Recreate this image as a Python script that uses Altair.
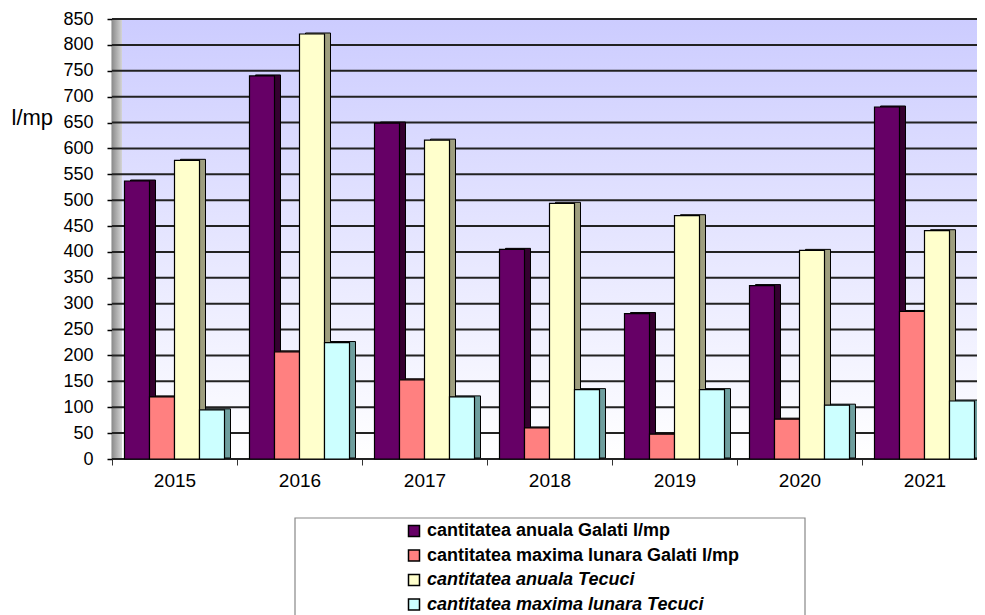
import altair as alt
import pandas as pd

years = ["2015", "2016", "2017", "2018", "2019", "2020", "2021"]
series = [
    "cantitatea anuala Galati l/mp",
    "cantitatea maxima lunara Galati l/mp",
    "cantitatea anuala Tecuci",
    "cantitatea maxima lunara Tecuci",
]
galati_anual = [537, 740, 649, 405, 281, 335, 680]
galati_max = [120, 207, 153, 60, 48, 77, 285]
tecuci_anual = [577, 821, 616, 494, 470, 403, 441]
tecuci_max = [95, 225, 120, 134, 134, 104, 112]
y_ticks = list(range(0, 851, 50))

front_colors = ["#660066", "#ff8080", "#ffffcc", "#ccffff"]
side_colors = ["#35002f", "#804040", "#9e9e7e", "#6e9e9e"]

rows = []
for s, vals in zip(series, [galati_anual, galati_max, tecuci_anual, tecuci_max]):
    for y, v in zip(years, vals):
        rows.append({"an": y, "serie": s, "valoare": v})
df = pd.DataFrame(rows)

W, H = 875, 440
FONT = "Liberation Sans"

yscale = alt.Scale(domain=[0, 850], nice=False, zero=True)
xscale = alt.Scale(paddingInner=0.2, paddingOuter=0.1)

x_axis = alt.Axis(
    title=None, labelAngle=0, labelFont=FONT, labelFontSize=19,
    labelColor="black", tickColor="#333333", tickSize=6,
    tickOffset=-62.5, labelOffset=62.5, labelPadding=6,
    domainColor="#444444", domainWidth=1.2, grid=False,
)
y_axis = alt.Axis(
    values=y_ticks, title="l/mp", titleAngle=0, titleX=-101, titleY=98,
    titleAlign="left", titleBaseline="middle", titleFont=FONT,
    titleFontSize=22, titleFontWeight="normal", titleColor="black",
    labelFont=FONT, labelFontSize=18, labelColor="black",
    labelPadding=14, tickSize=5, tickColor="black", tickWidth=1.5,
    domainColor="black", domainWidth=1.5, grid=False,
)

one = alt.Data(values=[{"k": 1}])

bg = alt.Chart(one).mark_rect(
    color=alt.Gradient(
        gradient="linear", x1=0, y1=0, x2=0, y2=1,
        stops=[alt.GradientStop(color="#ccccff", offset=0),
               alt.GradientStop(color="#ffffff", offset=1)],
    )
).encode(x=alt.value(0), x2=alt.value(W), y=alt.value(0), y2=alt.value(H))

wall = alt.Chart(one).mark_rect(
    color=alt.Gradient(
        gradient="linear", x1=0, y1=0, x2=1, y2=0,
        stops=[alt.GradientStop(color="#8c8c8c", offset=0),
               alt.GradientStop(color="#d4d4d4", offset=1)],
    )
).encode(x=alt.value(0), x2=alt.value(10), y=alt.value(0), y2=alt.value(H))

legend_frame = alt.Chart(one).mark_rect(
    fill="white", stroke="#888888", strokeWidth=1.2
).encode(x=alt.value(183), x2=alt.value(693), y=alt.value(499), y2=alt.value(640))

grid = alt.Chart(pd.DataFrame({"v": y_ticks})).mark_rule(
    color="#222222", strokeWidth=2
).encode(y=alt.Y("v:Q", scale=yscale, axis=y_axis))

side = alt.Chart(df).mark_bar(
    yOffset=-1, stroke="black", strokeWidth=1
).encode(
    x=alt.X("an:N", scale=xscale, sort=years, axis=x_axis),
    xOffset=alt.XOffset("serie:N", sort=series,
                        scale=alt.Scale(range=[6, 106], paddingInner=0, paddingOuter=0)),
    y=alt.Y("valoare:Q", scale=yscale, axis=y_axis),
    color=alt.Color("serie:N", sort=series,
                    scale=alt.Scale(domain=series, range=side_colors), legend=None),
)

front = alt.Chart(df).mark_bar(stroke="black", strokeWidth=1.2).encode(
    x=alt.X("an:N", scale=xscale, sort=years, axis=x_axis),
    xOffset=alt.XOffset("serie:N", sort=series,
                        scale=alt.Scale(range=[0, 100], paddingInner=0, paddingOuter=0)),
    y=alt.Y("valoare:Q", scale=yscale, axis=y_axis),
    color=alt.Color(
        "serie:N", sort=series,
        scale=alt.Scale(domain=series, range=front_colors),
        legend=alt.Legend(
            title=None, orient="none", legendX=289, legendY=499,
            direction="vertical", symbolType="square", symbolSize=121,
            symbolStrokeColor="black", symbolStrokeWidth=1.5,
            labelFont=FONT, labelFontSize=18, labelFontWeight="bold",
            labelColor="black",
            labelFontStyle=alt.ExprRef(
                "indexof(datum.label, 'Tecuci') >= 0 ? 'italic' : 'normal'"
            ),
            labelLimit=600, labelOffset=4, rowPadding=6.5, padding=4,
            symbolOpacity=1,
        ),
    ),
)

chart = alt.layer(bg, wall, grid, side, front, legend_frame).resolve_scale(
    color="independent", xOffset="independent"
).properties(
    width=W, height=H,
    autosize="none",
    padding={"left": 104, "top": 11, "right": -10, "bottom": 161},
).configure_view(stroke=None).configure(font=FONT)

chart.save("out.html", embed_options={"renderer": "svg", "actions": False})
